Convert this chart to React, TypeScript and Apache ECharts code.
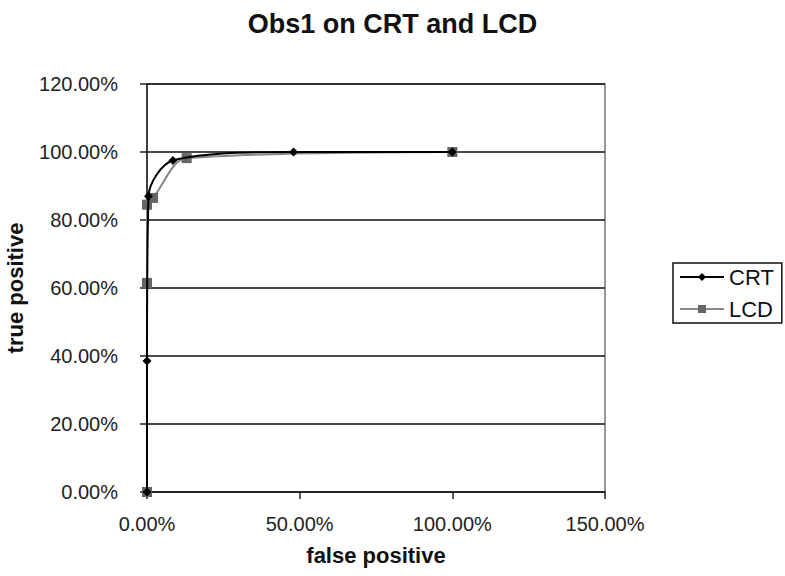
import React, { useEffect, useRef } from "react";
import * as echarts from "echarts";

const crtX = [0, 0, 0.005, 0.085, 0.48, 1.0];
const crtY = [0, 0.385, 0.87, 0.975, 1.0, 1.0];
const lcdX = [0, 0, 0, 0.02, 0.13, 1.0];
const lcdY = [0, 0.615, 0.845, 0.865, 0.982, 1.0];
const seriesNames = ["CRT", "LCD"];
const titleText = "Obs1 on CRT and LCD";
const xName = "false positive";
const yName = "true positive";

const pct = (v: number) => (v * 100).toFixed(2) + "%";
const font = "'Liberation Sans', Arial, sans-serif";

export default function App() {
  const ref = useRef<HTMLDivElement>(null);
  useEffect(() => {
    if (!ref.current) return;
    const chart = echarts.init(ref.current, undefined, { renderer: "svg" });
    chart.setOption({
      animation: false,
      backgroundColor: "#ffffff",
      title: {
        text: titleText,
        left: "center",
        top: 5,
        textStyle: { fontFamily: font, fontSize: 27, fontWeight: "bold", color: "#111" },
      },
      legend: {
        orient: "vertical",
        left: 673,
        top: 263,
        data: seriesNames,
        borderColor: "#111",
        borderWidth: 1.5,
        padding: [3, 8, 3, 6],
        itemGap: 10,
        itemWidth: 44,
        itemHeight: 10,
        textStyle: { fontFamily: font, fontSize: 22, lineHeight: 22, color: "#111", padding: [0, 0, 0, 0] },
      },
      grid: {
        left: 147,
        right: 180,
        top: 84,
        bottom: 84,
        show: true,
        containLabel: false,
        outerBoundsMode: "none",
        borderColor: "#777",
        borderWidth: 1.5,
        backgroundColor: "transparent",
      },
      xAxis: {
        type: "value",
        min: 0,
        max: 1.5,
        interval: 0.5,
        name: xName,
        nameLocation: "middle",
        nameGap: 52,
        nameTextStyle: { fontFamily: font, fontSize: 22, fontWeight: "bold", color: "#111" },
        axisLine: { show: true, lineStyle: { color: "#222", width: 1.5 } },
        axisTick: { show: true, length: 7, lineStyle: { color: "#222", width: 1.5 } },
        axisLabel: {
          formatter: pct,
          margin: 22,
          fontFamily: font,
          fontSize: 20,
          color: "#222",
        },
        splitLine: { show: false },
      },
      yAxis: {
        type: "value",
        min: 0,
        max: 1.2,
        interval: 0.2,
        name: yName,
        nameLocation: "middle",
        nameGap: 121,
        nameTextStyle: { fontFamily: font, fontSize: 22, fontWeight: "bold", color: "#111" },
        axisLine: { show: true, onZero: false, lineStyle: { color: "#222", width: 1.5 } },
        axisTick: { show: true, length: 7, lineStyle: { color: "#222", width: 1.5 } },
        axisLabel: {
          formatter: pct,
          margin: 29,
          fontFamily: font,
          fontSize: 20,
          color: "#222",
        },
        splitLine: { show: true, lineStyle: { color: "#111", width: 1.5 } },
      },
      series: [
        {
          name: seriesNames[0],
          type: "line",
          data: crtX.map((x, i) => [x, crtY[i]]),
          smooth: 0.3,
          symbol: "diamond",
          symbolSize: 9,
          itemStyle: { color: "#000" },
          lineStyle: { color: "#000", width: 2 },
          z: 3,
        },
        {
          name: seriesNames[1],
          type: "line",
          data: lcdX.map((x, i) => [x, lcdY[i]]),
          smooth: 0.3,
          symbol: "rect",
          symbolSize: 10,
          itemStyle: { color: "#666" },
          lineStyle: { color: "#888", width: 2 },
          z: 2,
        },
      ],
    });
    return () => chart.dispose();
  }, []);
  return <div ref={ref} style={{ width: 785, height: 576, position: "absolute", left: 0, top: 0 }} />;
}
